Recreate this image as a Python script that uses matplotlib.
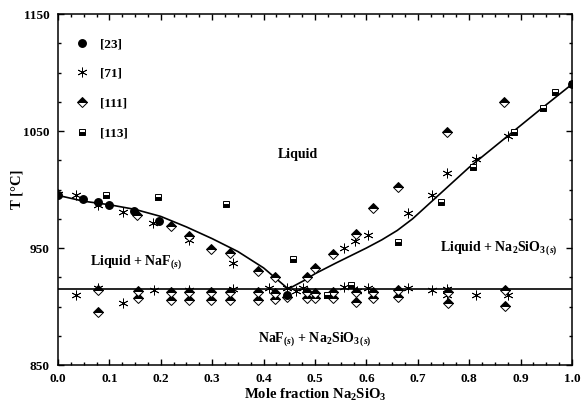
import numpy as np
import matplotlib
matplotlib.use("Agg")
import matplotlib.pyplot as plt
from matplotlib.ticker import MultipleLocator

plt.rcParams['font.family'] = 'Liberation Serif'
plt.rcParams['font.weight'] = 'bold'
plt.rcParams['axes.labelweight'] = 'bold'
plt.rcParams['mathtext.fontset'] = 'custom'
plt.rcParams['mathtext.rm'] = 'Liberation Serif:bold'
plt.rcParams['mathtext.bf'] = 'Liberation Serif:bold'
plt.rcParams['mathtext.it'] = 'Liberation Serif:italic:bold'

# liquidus line
liq_x = [0.0, 0.05, 0.10, 0.15, 0.20, 0.25, 0.30, 0.35, 0.40, 0.448,
         0.48, 0.50, 0.54, 0.60, 0.63, 0.66, 0.69, 0.72, 0.76, 0.80, 0.87,
         0.94, 1.0]
liq_T = [995, 990, 987, 983, 977, 968, 958, 947, 933, 915,
         922.5, 928, 937, 950, 957, 965, 975, 987, 1003, 1019, 1044,
         1069, 1090]
eutectic_T = 915

# [23]
d23_x = [0.0, 0.048, 0.078, 0.099, 0.148, 0.197, 0.446, 1.0]
d23_T = [995, 992, 989, 987, 982, 973, 910, 1090]

# [71]
d71_x = [0.0, 0.036, 0.078, 0.126, 0.185, 0.254, 0.340, 0.557, 0.578, 0.604,
         0.680, 0.727, 0.757, 0.813, 0.876,
         0.035, 0.078, 0.126, 0.187, 0.255, 0.340, 0.410, 0.446, 0.464, 0.477,
         0.557, 0.582, 0.604, 0.680, 0.727, 0.757, 0.757, 0.813, 0.876]
d71_T = [996, 995, 987, 981, 971, 957, 937, 950, 956, 961,
         980, 995, 1014, 1026, 1046,
         910, 916, 903, 914, 914, 915, 916, 916, 913, 916,
         917, 913, 916, 916, 914, 915, 910, 910, 910]

# [111]
d111_x = [0.154, 0.219, 0.255, 0.297, 0.334, 0.390, 0.422, 0.484, 0.500, 0.536,
          0.580, 0.613, 0.662, 0.757, 0.868,
          0.077, 0.077, 0.156, 0.156, 0.219, 0.219, 0.255, 0.255, 0.297, 0.297,
          0.334, 0.334, 0.390, 0.390, 0.422, 0.422, 0.446, 0.484, 0.484, 0.500,
          0.500, 0.536, 0.536, 0.580, 0.580, 0.613, 0.613, 0.662, 0.662, 0.759,
          0.759, 0.870, 0.870]
d111_T = [978, 969, 960, 949, 946, 930, 925, 925, 933, 945,
          962, 984, 1002, 1049, 1075,
          914, 895, 913.5, 907, 912.7, 905.6, 912.7, 905.6, 912, 905.6,
          912, 905.6, 912, 905.6, 911.3, 906.2, 908, 912, 907, 911.3,
          907, 912, 907, 912.7, 903.6, 912.7, 907, 914, 908.4, 912.7,
          902.7, 914, 900.7]

# [113]
d113_x = [0.093, 0.195, 0.326, 0.458, 0.524, 0.570, 0.662, 0.746, 0.807,
          0.887, 0.943, 0.967, 1.0]
d113_T = [995, 994, 988, 941, 910, 918, 955, 989, 1019, 1049, 1070, 1083, 1090]

y_ticks = [850, 950, 1050, 1150]

fig = plt.figure(figsize=(5.81, 4.04), dpi=100)
ax = fig.add_axes([0.0998, 0.0965, 0.8847, 0.8688])

ax.plot(liq_x, liq_T, color='black', lw=1.2, zorder=2)
ax.axhline(eutectic_T, color='black', lw=1.2, zorder=2)

ax.plot(d23_x, d23_T, 'o', ms=5.4, color='black', mec='black', ls='none',
        label='[23]', zorder=4)
ax.plot(d71_x, d71_T, marker=(6, 2, 0), ms=7, color='black', mew=0.6,
        ls='none', label='[71]', zorder=3)
ax.plot(d111_x, d111_T, 'D', ms=4.9, fillstyle='top', mfc='black',
        mfcalt='white', mec='black', mew=0.7, ls='none', label='[111]', zorder=3)
ax.plot(d113_x, d113_T, 's', ms=4.8, fillstyle='bottom', mfc='black',
        mfcalt='white', mec='black', mew=0.7, ls='none', label='[113]', zorder=3)

ax.text(0.467, 1030, 'Liquid', ha='center', va='center', fontsize=10)
ax.text(0.062, 938, 'Liquid + NaF$_{(s)}$', ha='left', va='center', fontsize=10)
ax.text(0.743, 950, 'Liquid + Na$_2$SiO$_{3\\,(s)}$', ha='left', va='center',
        fontsize=10)
ax.text(0.390, 872, 'NaF$_{(s)}$ + Na$_2$SiO$_{3\\,(s)}$', ha='left',
        va='center', fontsize=10)

ax.set_xlim(0, 1.0)
ax.set_ylim(850, 1150)
ax.xaxis.set_major_locator(MultipleLocator(0.1))
ax.xaxis.set_minor_locator(MultipleLocator(0.025))
ax.set_yticks(y_ticks)
ax.yaxis.set_minor_locator(MultipleLocator(25))
ax.tick_params(which='both', direction='in', top=True, right=True, width=1)
ax.tick_params(which='major', length=4.5, labelsize=9.5, pad=6)
ax.tick_params(which='minor', length=2.2)
for s in ax.spines.values():
    s.set_linewidth(1.1)

ax.set_xlabel('Mole fraction Na$_2$SiO$_3$', fontsize=10.5, labelpad=1)
ax.set_ylabel('T [°C]', fontsize=10.5, labelpad=0)

ax.legend(loc='upper left', bbox_to_anchor=(0.01, 0.958), frameon=False,
          fontsize=9.5, labelspacing=1.32, handletextpad=0.6,
          handlelength=1.5, borderaxespad=0.3)

fig.savefig('out.png', dpi=100)
